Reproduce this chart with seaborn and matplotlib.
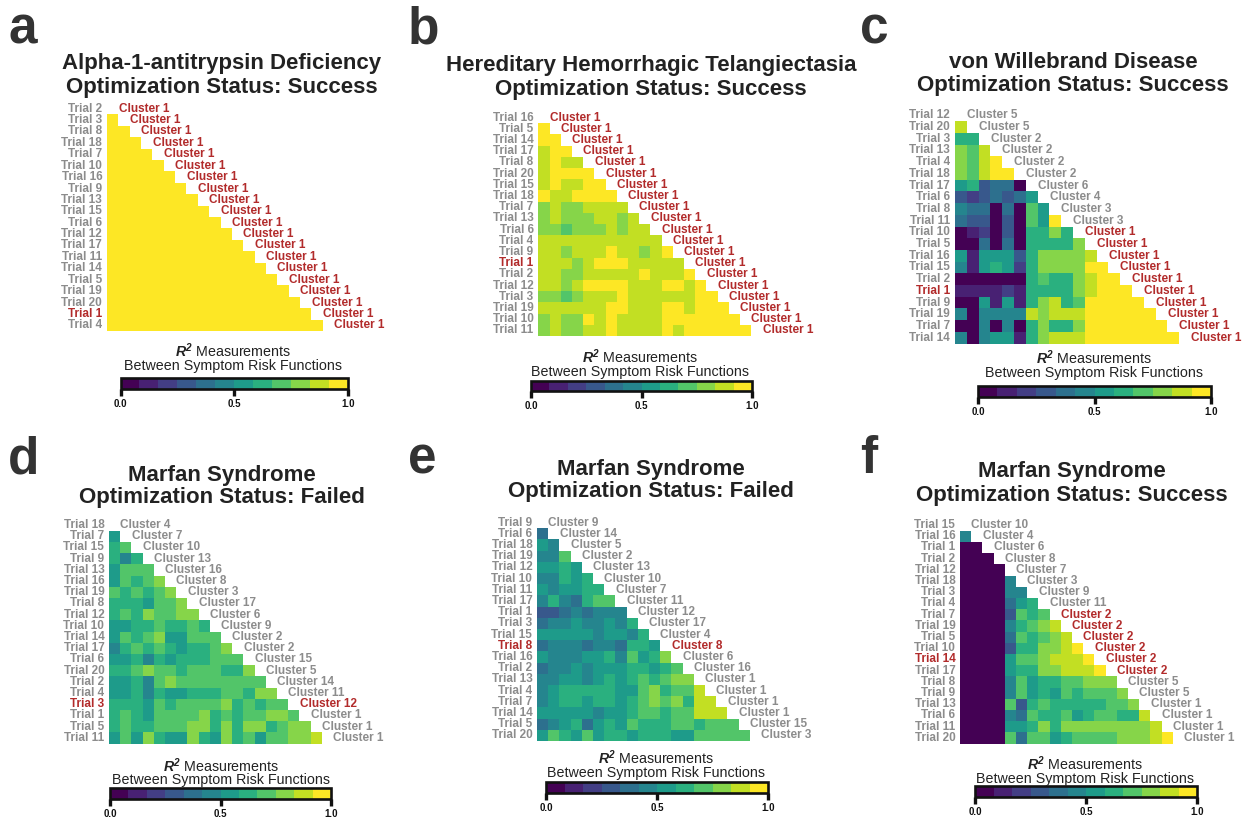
import numpy as np
import pandas as pd
import matplotlib
matplotlib.use("Agg")
import matplotlib.pyplot as plt
import seaborn as sns

# ---------------- DATA ----------------
a_trials = ["Trial 2", "Trial 3", "Trial 8", "Trial 18", "Trial 7", "Trial 10", "Trial 16", "Trial 9",
            "Trial 13", "Trial 15", "Trial 6", "Trial 12", "Trial 17", "Trial 11", "Trial 14", "Trial 5",
            "Trial 19", "Trial 20", "Trial 1", "Trial 4"]
a_clusters = ["Cluster 1"] * 20
a_red_trial, a_red_cluster = "Trial 1", "Cluster 1"
a_r2 = [
    [],
    [.99],
    [.99, .99],
    [.99, .99, .99],
    [.99, .99, .99, .99],
    [.99, .99, .99, .99, .99],
    [.99, .99, .99, .99, .99, .99],
    [.99, .99, .99, .99, .99, .99, .99],
    [.99, .99, .99, .99, .99, .99, .99, .99],
    [.99, .99, .99, .99, .99, .99, .99, .99, .99],
    [.99, .99, .99, .99, .99, .99, .99, .99, .99, .99],
    [.99, .99, .99, .99, .99, .99, .99, .99, .99, .99, .99],
    [.99, .99, .99, .99, .99, .99, .99, .99, .99, .99, .99, .99],
    [.99, .99, .99, .99, .99, .99, .99, .99, .99, .99, .99, .99, .99],
    [.99, .99, .99, .99, .99, .99, .99, .99, .99, .99, .99, .99, .99, .99],
    [.99, .99, .99, .99, .99, .99, .99, .99, .99, .99, .99, .99, .99, .99, .99],
    [.99, .99, .99, .99, .99, .99, .99, .99, .99, .99, .99, .99, .99, .99, .99, .99],
    [.99, .99, .99, .99, .99, .99, .99, .99, .99, .99, .99, .99, .99, .99, .99, .99, .99],
    [.99, .99, .99, .99, .99, .99, .99, .99, .99, .99, .99, .99, .99, .99, .99, .99, .99, .99],
    [.99, .99, .99, .99, .99, .99, .99, .99, .99, .99, .99, .99, .99, .99, .99, .99, .99, .99, .99],
]

b_trials = ["Trial 16", "Trial 5", "Trial 14", "Trial 17", "Trial 8", "Trial 20", "Trial 15", "Trial 18",
            "Trial 7", "Trial 13", "Trial 6", "Trial 4", "Trial 9", "Trial 1", "Trial 2", "Trial 12",
            "Trial 3", "Trial 19", "Trial 10", "Trial 11"]
b_clusters = ["Cluster 1"] * 20
b_red_trial, b_red_cluster = "Trial 1", "Cluster 1"
b_r2 = [
    [],
    [.96],
    [.96, .96],
    [.88, .96, .96],
    [.88, .96, .88, .88],
    [.88, .96, .96, .96, .96],
    [.88, .96, .88, .88, .96, .96],
    [.96, .88, .88, .96, .96, .96, .96],
    [.79, .88, .79, .79, .88, .88, .88, .88],
    [.79, .88, .79, .79, .79, .88, .88, .79, .88],
    [.79, .79, .71, .79, .79, .79, .88, .79, .88, .88],
    [.88, .88, .88, .88, .88, .88, .88, .88, .88, .88, .88],
    [.88, .88, .79, .88, .88, .88, .96, .88, .88, .79, .88, .96],
    [.88, .88, .88, .79, .88, .96, .96, .96, .88, .88, .88, .88, .88],
    [.88, .88, .79, .79, .88, .88, .88, .88, .88, .96, .88, .88, .88, .96],
    [.88, .88, .79, .88, .96, .96, .96, .96, .88, .88, .88, .96, .96, .88, .96],
    [.79, .79, .71, .79, .88, .88, .88, .96, .88, .88, .88, .88, .88, .88, .96, .96],
    [.88, .88, .88, .88, .88, .88, .96, .96, .88, .88, .88, .96, .96, .88, .96, .96, .96],
    [.79, .88, .79, .79, .96, .88, .96, .88, .88, .88, .88, .96, .96, .96, .96, .96, .96, .96],
    [.79, .88, .79, .79, .88, .88, .96, .88, .88, .88, .88, .96, .88, .96, .96, .96, .96, .96, .96],
]

c_trials = ["Trial 12", "Trial 20", "Trial 3", "Trial 13", "Trial 4", "Trial 18", "Trial 17", "Trial 6",
            "Trial 8", "Trial 11", "Trial 10", "Trial 5", "Trial 16", "Trial 15", "Trial 2", "Trial 1",
            "Trial 9", "Trial 19", "Trial 7", "Trial 14"]
c_clusters = ["Cluster 5", "Cluster 5", "Cluster 2", "Cluster 2", "Cluster 2", "Cluster 2", "Cluster 6",
              "Cluster 4", "Cluster 3", "Cluster 3"] + ["Cluster 1"] * 10
c_red_trial, c_red_cluster = "Trial 1", "Cluster 1"
c_r2 = [
    [],
    [.88],
    [.62, .62],
    [.79, .71, .88],
    [.79, .71, .88, .96],
    [.79, .71, .88, .96, .96],
    [.54, .62, .29, .38, .38, .04],
    [.29, .21, .29, .38, .29, .38, .54],
    [.46, .38, .38, .04, .38, .04, .71, .54],
    [.38, .29, .29, .04, .29, .04, .71, .54, .96],
    [.04, .12, .21, .04, .29, .04, .62, .62, .79, .62],
    [.04, .04, .38, .04, .38, .04, .62, .62, .62, .62, .79],
    [.54, .12, .54, .54, .54, .29, .62, .79, .79, .79, .79, .88],
    [.46, .12, .54, .62, .54, .21, .62, .79, .79, .79, .79, .96, .96],
    [.04, .04, .04, .04, .04, .04, .62, .71, .62, .62, .79, .88, .96, .96],
    [.12, .12, .12, .12, .21, .12, .62, .62, .62, .62, .79, .88, .96, .96, .96],
    [.04, .04, .54, .12, .54, .12, .62, .79, .88, .62, .71, .96, .96, .96, .96, .96],
    [.46, .04, .46, .46, .46, .46, .88, .79, .88, .88, .88, .96, .96, .96, .96, .96, .96],
    [.04, .04, .46, .04, .46, .04, .62, .79, .62, .62, .79, .96, .96, .96, .96, .96, .96, .96],
    [.46, .04, .46, .54, .54, .12, .62, .79, .88, .88, .88, .96, .96, .96, .96, .96, .96, .96, .96],
]

d_trials = ["Trial 18", "Trial 7", "Trial 15", "Trial 9", "Trial 13", "Trial 16", "Trial 19", "Trial 8",
            "Trial 12", "Trial 10", "Trial 14", "Trial 17", "Trial 6", "Trial 20", "Trial 2", "Trial 4",
            "Trial 3", "Trial 1", "Trial 5", "Trial 11"]
d_clusters = ["Cluster 4", "Cluster 7", "Cluster 10", "Cluster 13", "Cluster 16", "Cluster 8", "Cluster 3",
              "Cluster 17", "Cluster 6", "Cluster 9", "Cluster 2", "Cluster 2", "Cluster 15", "Cluster 5",
              "Cluster 14", "Cluster 11", "Cluster 12", "Cluster 1", "Cluster 1", "Cluster 1"]
d_red_trial, d_red_cluster = "Trial 3", "Cluster 12"
d_r2 = [
    [],
    [.54],
    [.62, .71],
    [.62, .46, .62],
    [.54, .71, .71, .71],
    [.54, .71, .62, .71, .79],
    [.71, .62, .71, .62, .71, .79],
    [.62, .62, .62, .54, .71, .71, .79],
    [.62, .71, .62, .79, .71, .71, .79, .79],
    [.54, .54, .62, .62, .71, .62, .62, .71, .62],
    [.54, .71, .62, .71, .79, .54, .54, .71, .71, .71],
    [.46, .62, .71, .62, .71, .62, .54, .62, .62, .71, .79],
    [.54, .54, .62, .46, .62, .54, .62, .62, .62, .71, .71, .71],
    [.62, .62, .71, .79, .71, .71, .62, .71, .71, .71, .62, .62, .79],
    [.54, .54, .62, .46, .71, .79, .71, .71, .71, .71, .71, .71, .71, .71],
    [.54, .54, .62, .46, .62, .54, .54, .62, .62, .62, .71, .71, .62, .79, .79],
    [.62, .62, .62, .54, .71, .62, .71, .71, .71, .71, .79, .62, .71, .62, .71, .71],
    [.62, .71, .62, .54, .71, .71, .71, .71, .79, .62, .71, .62, .71, .71, .79, .79, .71],
    [.62, .71, .62, .62, .71, .71, .71, .79, .79, .62, .79, .62, .79, .79, .62, .71, .79, .79],
    [.54, .71, .54, .79, .62, .54, .54, .79, .62, .54, .79, .62, .71, .54, .71, .71, .79, .79, .88],
]

e_trials = ["Trial 9", "Trial 6", "Trial 18", "Trial 19", "Trial 12", "Trial 10", "Trial 11", "Trial 17",
            "Trial 1", "Trial 3", "Trial 15", "Trial 8", "Trial 16", "Trial 2", "Trial 13", "Trial 4",
            "Trial 7", "Trial 14", "Trial 5", "Trial 20"]
e_clusters = ["Cluster 9", "Cluster 14", "Cluster 5", "Cluster 2", "Cluster 13", "Cluster 10", "Cluster 7",
              "Cluster 11", "Cluster 12", "Cluster 17", "Cluster 4", "Cluster 8", "Cluster 6", "Cluster 16",
              "Cluster 1", "Cluster 1", "Cluster 1", "Cluster 1", "Cluster 15", "Cluster 3"]
e_red_trial, e_red_cluster = "Trial 8", "Cluster 8"
e_r2 = [
    [],
    [.38],
    [.54, .46],
    [.46, .46, .71],
    [.54, .54, .62, .54],
    [.46, .46, .62, .54, .62],
    [.54, .46, .54, .54, .62, .62],
    [.46, .62, .46, .38, .62, .71, .71],
    [.29, .29, .38, .46, .38, .46, .46, .46],
    [.38, .46, .46, .54, .46, .46, .54, .46, .62],
    [.54, .54, .54, .54, .54, .46, .54, .54, .46, .62],
    [.38, .46, .46, .46, .38, .46, .46, .38, .62, .62, .54],
    [.54, .46, .46, .46, .54, .54, .62, .46, .71, .54, .62, .79],
    [.38, .46, .46, .54, .46, .54, .54, .54, .62, .62, .54, .62, .71],
    [.46, .46, .54, .54, .46, .54, .62, .54, .62, .71, .62, .71, .79, .79],
    [.46, .54, .62, .62, .62, .62, .62, .54, .54, .71, .79, .62, .71, .71, .88],
    [.46, .54, .62, .62, .54, .62, .62, .54, .62, .71, .79, .71, .79, .62, .88, .88],
    [.54, .54, .54, .54, .54, .46, .54, .54, .62, .71, .71, .62, .71, .71, .88, .88, .88],
    [.38, .46, .54, .62, .38, .54, .62, .54, .71, .62, .62, .62, .71, .71, .62, .71, .71, .71],
    [.54, .71, .62, .54, .71, .54, .62, .62, .54, .62, .62, .62, .54, .54, .71, .71, .71, .71, .71],
]

f_trials = ["Trial 15", "Trial 16", "Trial 1", "Trial 2", "Trial 12", "Trial 18", "Trial 3", "Trial 4",
            "Trial 7", "Trial 19", "Trial 5", "Trial 10", "Trial 14", "Trial 17", "Trial 8", "Trial 9",
            "Trial 13", "Trial 6", "Trial 11", "Trial 20"]
f_clusters = ["Cluster 10", "Cluster 4", "Cluster 6", "Cluster 8", "Cluster 7", "Cluster 3", "Cluster 9",
              "Cluster 11", "Cluster 2", "Cluster 2", "Cluster 2", "Cluster 2", "Cluster 2", "Cluster 2",
              "Cluster 5", "Cluster 5", "Cluster 1", "Cluster 1", "Cluster 1", "Cluster 1"]
f_red_trial, f_red_cluster = "Trial 14", "Cluster 2"
f_r2 = [
    [],
    [.46],
    [.04, .04],
    [.04, .04, .04],
    [.04, .04, .04, .04],
    [.04, .04, .04, .04, .46],
    [.04, .04, .04, .04, .46, .46],
    [.04, .04, .04, .04, .38, .54, .62],
    [.04, .04, .04, .04, .29, .71, .62, .71],
    [.04, .04, .04, .04, .46, .62, .71, .79, .88],
    [.04, .04, .04, .04, .38, .71, .62, .71, .79, .88],
    [.04, .04, .04, .04, .29, .62, .62, .79, .79, .88, .96],
    [.04, .04, .04, .04, .54, .71, .71, .79, .88, .88, .88, .96],
    [.04, .04, .04, .04, .54, .62, .62, .79, .79, .88, .88, .88, .96],
    [.04, .04, .04, .04, .46, .71, .54, .62, .62, .71, .71, .79, .79, .79],
    [.04, .04, .04, .04, .46, .71, .54, .62, .54, .71, .62, .71, .71, .71, .79],
    [.04, .04, .04, .04, .71, .29, .62, .71, .62, .62, .62, .62, .62, .71, .71, .79],
    [.04, .04, .04, .04, .46, .38, .71, .62, .62, .71, .54, .62, .71, .71, .62, .62, .88],
    [.04, .04, .04, .04, .54, .54, .62, .79, .62, .79, .79, .79, .79, .79, .79, .79, .79, .88],
    [.04, .04, .04, .04, .71, .38, .71, .71, .54, .62, .71, .71, .71, .71, .79, .79, .79, .88, .96],
]

titles = [
    ("Alpha-1-antitrypsin Deficiency", "Optimization Status: Success"),
    ("Hereditary Hemorrhagic Telangiectasia", "Optimization Status: Success"),
    ("von Willebrand Disease", "Optimization Status: Success"),
    ("Marfan Syndrome", "Optimization Status: Failed"),
    ("Marfan Syndrome", "Optimization Status: Failed"),
    ("Marfan Syndrome", "Optimization Status: Success"),
]
panel_letters = ["a", "b", "c", "d", "e", "f"]
cbar_ticks = [0.0, 0.5, 1.0]
cbar_ticklabels = ["0.0", "0.5", "1.0"]

panels = [
    (a_trials, a_clusters, a_r2, a_red_trial, a_red_cluster),
    (b_trials, b_clusters, b_r2, b_red_trial, b_red_cluster),
    (c_trials, c_clusters, c_r2, c_red_trial, c_red_cluster),
    (d_trials, d_clusters, d_r2, d_red_trial, d_red_cluster),
    (e_trials, e_clusters, e_r2, e_red_trial, e_red_cluster),
    (f_trials, f_clusters, f_r2, f_red_trial, f_red_cluster),
]

# ---------------- LAYOUT (pixels) ----------------
W, H = 1248, 823
hm_boxes = [
    (107, 103, 227, 228),
    (538.3, 112, 224, 224),
    (955, 109.5, 236, 234),
    (109, 519.5, 224, 224),
    (537, 517, 224, 224),
    (960, 519.5, 224, 224),
]
cb_boxes = [
    (120.5, 378, 227.5, 10.5),
    (531, 380.5, 221, 10.5),
    (978, 386, 233, 11),
    (110, 788, 221, 11),
    (546, 782, 222, 11),
    (975, 786, 222, 11),
]
cb_label_pos = [(233, 351, 366), (640, 357, 372), (1094, 358, 373),
                (221, 766, 780), (656, 758, 773), (1085, 764, 779)]
title_pos = [(222, 63, 87), (651, 66, 89), (1073, 62, 86),
             (222, 475, 498), (651, 469, 492), (1072, 472, 495)]
letter_pos = [(8, 44), (408, 44), (860, 44), (8, 473), (408, 473), (860, 473)]

GRAY = "#8c8c8c"
RED = "#b22b2b"
DARK = "#222222"

sns.set_theme(style="white")
plt.rcParams["font.family"] = ["Liberation Sans", "DejaVu Sans"]
plt.rcParams["mathtext.fontset"] = "custom"
plt.rcParams["mathtext.bf"] = "Liberation Sans:bold:italic"
plt.rcParams["mathtext.rm"] = "Liberation Sans"
plt.rcParams["mathtext.it"] = "Liberation Sans:italic"

fig = plt.figure(figsize=(W / 100, H / 100), dpi=100)
fig.patch.set_facecolor("white")


def box(l, t, w, h):
    return [l / W, 1 - (t + h) / H, w / W, h / H]


cmap = plt.get_cmap("viridis", 12)

for k, (trials, clusters, r2, red_trial, red_cluster) in enumerate(panels):
    n = len(trials)
    mat = np.full((n, n), np.nan)
    for i, row in enumerate(r2):
        mat[i, :len(row)] = row
    df = pd.DataFrame(mat, index=trials, columns=trials)
    ax = fig.add_axes(box(*hm_boxes[k]))
    sns.heatmap(df, ax=ax, cmap=cmap, vmin=0, vmax=1, cbar=False,
                mask=np.isnan(mat), xticklabels=False, yticklabels=False)
    ax.set_xlim(0, n)
    ax.set_ylim(n, 0)
    for s in ax.spines.values():
        s.set_visible(False)
    ax.set_xlabel("")
    ax.set_ylabel("")
    for i in range(n):
        tc = RED if trials[i] == red_trial else GRAY
        ax.text(-0.42, i + 0.5, trials[i], ha="right", va="center", fontsize=8.5,
                fontweight="bold", color=tc, clip_on=False)
        cc = RED if clusters[i] == red_cluster else GRAY
        ax.text(i + 1.02, i + 0.5, clusters[i], ha="left", va="center", fontsize=8.5,
                fontweight="bold", color=cc, clip_on=False)

    cax = fig.add_axes(box(*cb_boxes[k]))
    cb = fig.colorbar(ax.collections[0], cax=cax, orientation="horizontal", ticks=cbar_ticks)
    cb.outline.set_linewidth(1.9)
    cb.outline.set_edgecolor("#111111")
    cax.tick_params(axis="x", length=5, width=2.4, pad=2.5, colors="#111111",
                    labelsize=7, direction="out")
    cb.set_ticklabels(cbar_ticklabels)
    for t in cax.get_xticklabels():
        t.set_fontweight("bold")

    cx, y1, y2 = cb_label_pos[k]
    fig.text(cx / W, 1 - y1 / H, r"$\mathbf{R^2}$ Measurements", ha="center", va="center",
             fontsize=10.3, color=DARK)
    fig.text(cx / W, 1 - y2 / H, "Between Symptom Risk Functions", ha="center", va="center",
             fontsize=10.3, color=DARK)

    tx, t1, t2 = title_pos[k]
    fig.text(tx / W, 1 - t1 / H, titles[k][0], ha="center", va="center", fontsize=16,
             fontweight="bold", color=DARK)
    fig.text(tx / W, 1 - t2 / H, titles[k][1], ha="center", va="center", fontsize=16,
             fontweight="bold", color=DARK)

    lx, ly = letter_pos[k]
    fig.text(lx / W, 1 - ly / H, panel_letters[k], ha="left", va="baseline", fontsize=37,
             fontweight="bold", color="#333333")

fig.savefig("out.png", dpi=100, facecolor="white")
